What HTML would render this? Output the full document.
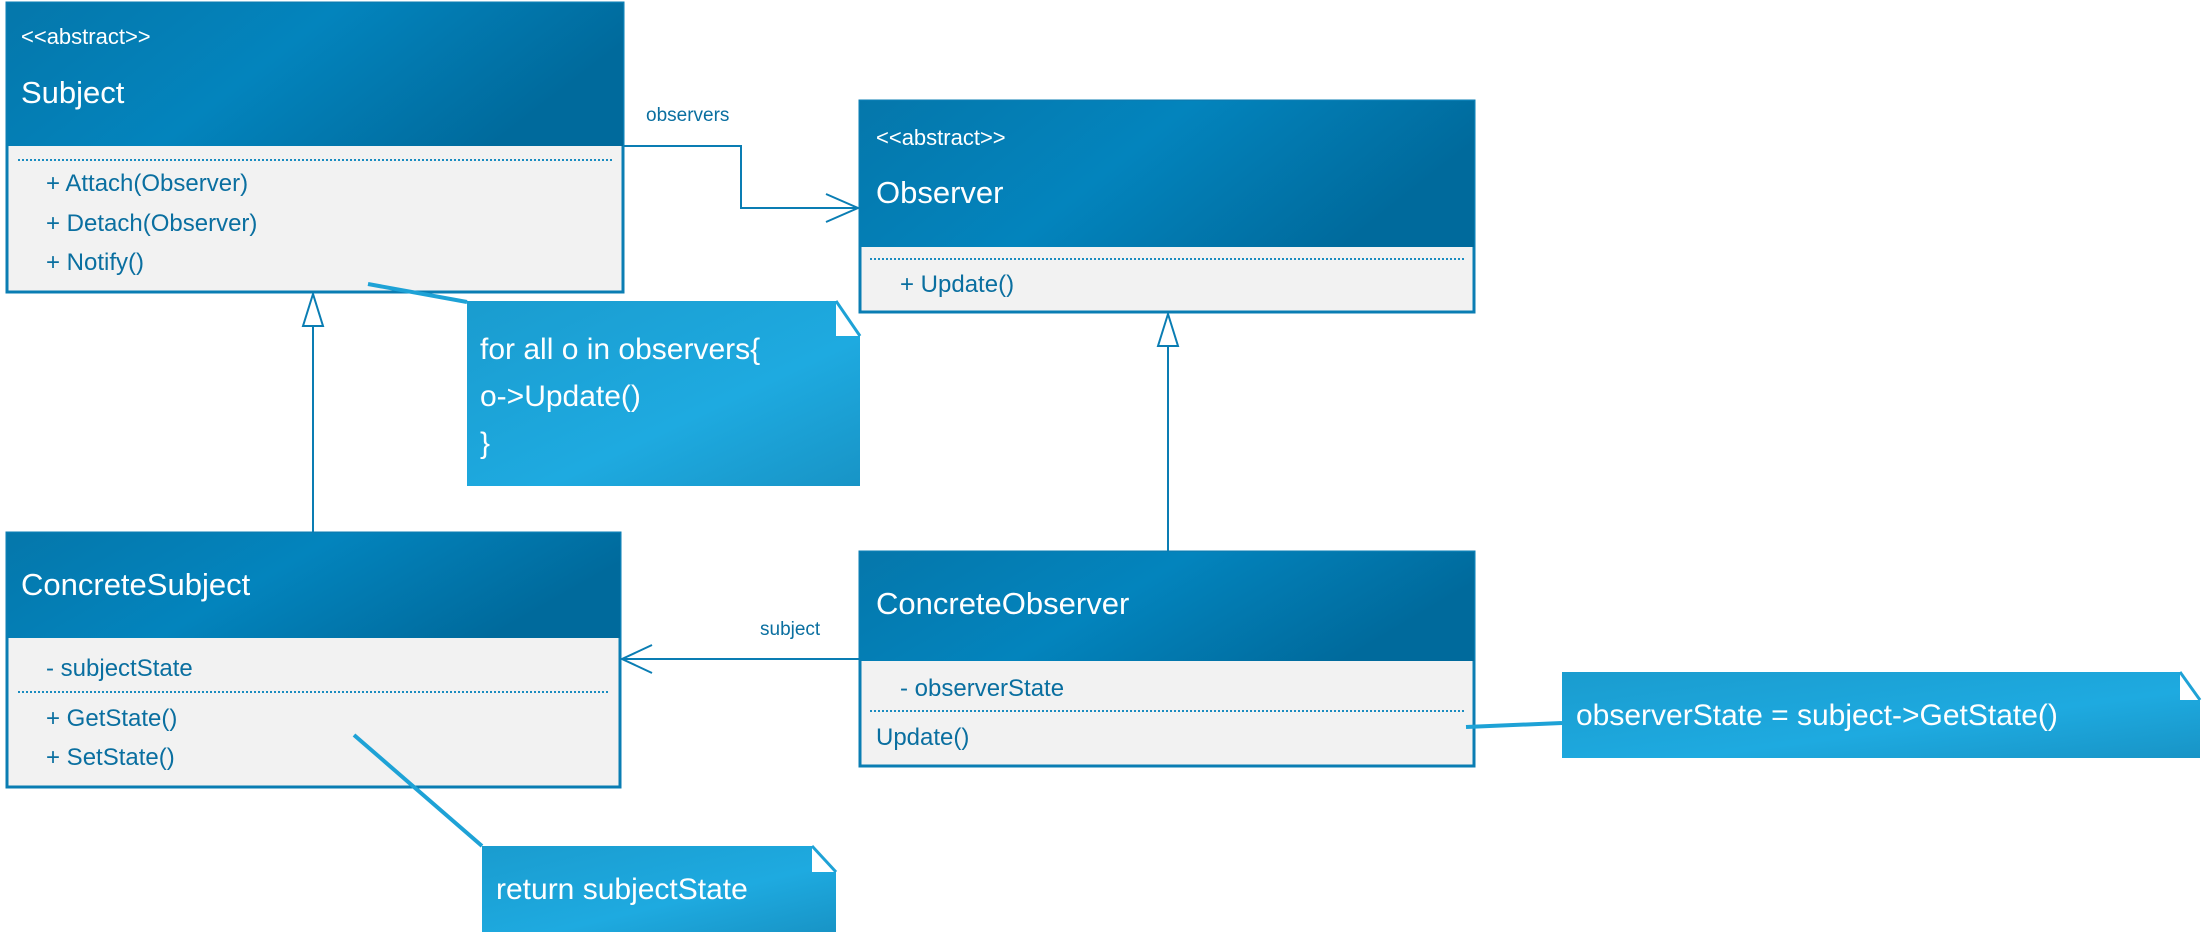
<!DOCTYPE html>
<html><head><meta charset="utf-8"><style>
html,body{margin:0;padding:0;background:#fff;}
svg{display:block;}
text{font-family:"Liberation Sans",sans-serif;}
</style></head><body>
<svg width="2204" height="933" viewBox="0 0 2204 933" xmlns="http://www.w3.org/2000/svg">
<defs>
<linearGradient id="hd" x1="0" y1="0" x2="1" y2="0.3">
<stop offset="0" stop-color="#0577ab"/><stop offset="0.5" stop-color="#0384bd"/><stop offset="1" stop-color="#006a9c"/>
</linearGradient>
<linearGradient id="nt" x1="0" y1="0" x2="1" y2="1">
<stop offset="0" stop-color="#1a9ccf"/><stop offset="0.6" stop-color="#1eaae0"/><stop offset="1" stop-color="#1894c6"/>
</linearGradient>
</defs>
<g stroke="#0a7db3" stroke-width="2" fill="none">
<polyline points="623,146 741,146 741,208 858,208"/>
<polyline points="826,194 858,208 826,222"/>
<line x1="860" y1="659" x2="622" y2="659"/>
<polyline points="652,645 622,659 652,673"/>
<line x1="313" y1="326" x2="313" y2="533"/>
<polygon points="313,294 303,326 323,326" fill="#fff"/>
<line x1="1168" y1="346" x2="1168" y2="552"/>
<polygon points="1168,314 1158,346 1178,346" fill="#fff"/>
</g>

<!-- Subject -->
<rect x="7" y="3" width="616" height="289" fill="#f2f2f2" stroke="#0a7db3" stroke-width="3"/>
<rect x="7" y="3" width="616" height="143" fill="url(#hd)"/>
<line x1="18" y1="160" x2="612" y2="160" stroke="#1a8cc0" stroke-width="2" stroke-dasharray="2,2"/>
<text x="21" y="44" font-size="22" fill="#fff">&lt;&lt;abstract&gt;&gt;</text>
<text x="21" y="103" font-size="31" fill="#fff">Subject</text>
<g font-size="24" fill="#0a6fa0">
<text x="46" y="191">+ Attach(Observer)</text>
<text x="46" y="231">+ Detach(Observer)</text>
<text x="46" y="270">+ Notify()</text>
</g>
<text x="646" y="121" font-size="19" fill="#0a6fa0">observers</text>

<!-- Observer -->
<rect x="860" y="101" width="614" height="211" fill="#f2f2f2" stroke="#0a7db3" stroke-width="3"/>
<rect x="860" y="101" width="614" height="146" fill="url(#hd)"/>
<line x1="870" y1="259" x2="1464" y2="259" stroke="#1a8cc0" stroke-width="2" stroke-dasharray="2,2"/>
<text x="876" y="145" font-size="22" fill="#fff">&lt;&lt;abstract&gt;&gt;</text>
<text x="876" y="203" font-size="31" fill="#fff">Observer</text>
<text x="900" y="292" font-size="24" fill="#0a6fa0">+ Update()</text>

<!-- ConcreteSubject -->
<rect x="7" y="533" width="613" height="254" fill="#f2f2f2" stroke="#0a7db3" stroke-width="3"/>
<rect x="7" y="533" width="613" height="105" fill="url(#hd)"/>
<line x1="18" y1="692" x2="610" y2="692" stroke="#1a8cc0" stroke-width="2" stroke-dasharray="2,2"/>
<text x="21" y="595" font-size="31" fill="#fff">ConcreteSubject</text>
<g font-size="24" fill="#0a6fa0">
<text x="46" y="676">- subjectState</text>
<text x="46" y="726">+ GetState()</text>
<text x="46" y="765">+ SetState()</text>
</g>
<text x="760" y="635" font-size="19" fill="#0a6fa0">subject</text>

<!-- ConcreteObserver -->
<rect x="860" y="552" width="614" height="214" fill="#f2f2f2" stroke="#0a7db3" stroke-width="3"/>
<rect x="860" y="552" width="614" height="109" fill="url(#hd)"/>
<line x1="870" y1="711" x2="1464" y2="711" stroke="#1a8cc0" stroke-width="2" stroke-dasharray="2,2"/>
<text x="876" y="614" font-size="31" fill="#fff">ConcreteObserver</text>
<g font-size="24" fill="#0a6fa0">
<text x="900" y="696">- observerState</text>
<text x="876" y="745">Update()</text>
</g>

<!-- note anchor lines -->
<g stroke="#1ea2d6" stroke-width="4">
<line x1="368" y1="284" x2="467" y2="302"/>
<line x1="354" y1="735" x2="482" y2="846"/>
<line x1="1466" y1="727" x2="1562" y2="723"/>
</g>

<!-- Note 1 -->
<polygon points="467,301 836,301 860,336 860,486 467,486" fill="url(#nt)"/>
<polygon points="836,301 860,336 836,336" fill="#fff"/>
<line x1="836" y1="301" x2="860" y2="336" stroke="#1ea2d6" stroke-width="3"/>
<g font-size="30" fill="#fff">
<text x="480" y="359">for all o in observers{</text>
<text x="480" y="406">o-&gt;Update()</text>
<text x="480" y="453">}</text>
</g>

<!-- Note observerState -->
<polygon points="1562,672 2180,672 2200,700 2200,758 1562,758" fill="url(#nt)"/>
<polygon points="2180,672 2200,700 2180,700" fill="#fff"/>
<line x1="2180" y1="672" x2="2200" y2="700" stroke="#1ea2d6" stroke-width="3"/>
<text x="1576" y="725" font-size="30" fill="#fff">observerState = subject-&gt;GetState()</text>

<!-- Note return -->
<polygon points="482,846 812,846 836,872 836,932 482,932" fill="url(#nt)"/>
<polygon points="812,846 836,872 812,872" fill="#fff"/>
<line x1="812" y1="846" x2="836" y2="872" stroke="#1ea2d6" stroke-width="3"/>
<text x="496" y="899" font-size="30" fill="#fff">return subjectState</text>
</svg>
</body></html>
